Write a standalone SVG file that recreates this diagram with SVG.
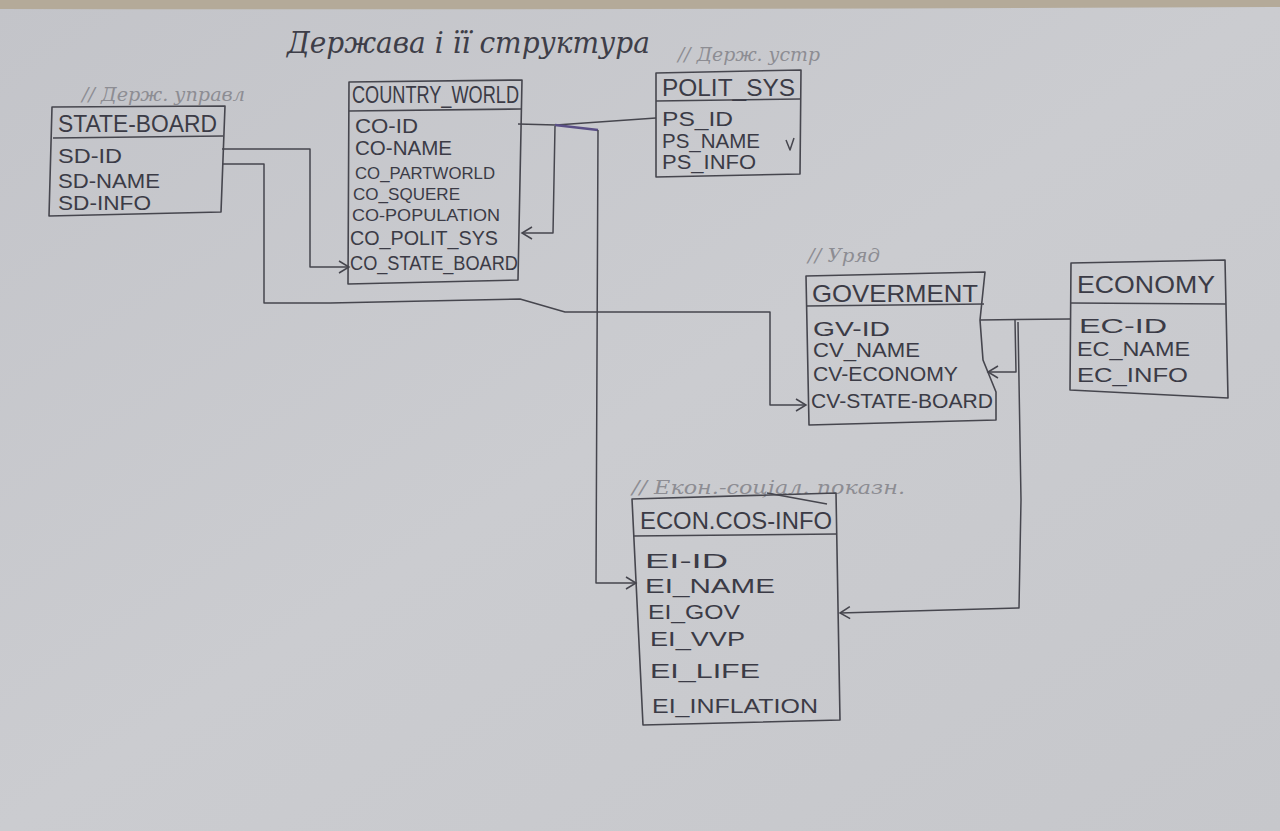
<svg xmlns="http://www.w3.org/2000/svg" width="1280" height="831" viewBox="0 0 1280 831">
<defs>
<linearGradient id="paper" x1="0" y1="0" x2="1" y2="1">
<stop offset="0" stop-color="#c3c4c9"/>
<stop offset="0.5" stop-color="#cbccd0"/>
<stop offset="1" stop-color="#c6c7cb"/>
</linearGradient>
<marker id="arr" markerWidth="14" markerHeight="14" refX="12" refY="7" orient="auto" markerUnits="userSpaceOnUse">
<path d="M2,1 L12,7 L2,13" fill="none" stroke="#45454d" stroke-width="1.5"/>
</marker>
<style>
.box{fill:none;stroke:#46464e;stroke-width:1.6;stroke-linejoin:round}
.ln{fill:none;stroke:#46464e;stroke-width:1.5;stroke-linejoin:round}
.h{font-family:"Liberation Sans","DejaVu Sans",sans-serif;font-size:24px;fill:#3b3b46}
.r{font-family:"Liberation Sans","DejaVu Sans",sans-serif;font-size:20px;fill:#3b3b46}
.rs{font-family:"Liberation Sans","DejaVu Sans",sans-serif;font-size:17px;fill:#3b3b46}
.note{font-family:"DejaVu Serif","Liberation Serif",serif;font-style:italic;font-size:19px;fill:#8d8d93}
.title{font-family:"DejaVu Serif","Liberation Serif",serif;font-style:italic;font-size:30px;fill:#3e3e48}
</style>
</defs>
<rect x="0" y="0" width="1280" height="831" fill="url(#paper)"/>
<path d="M0,0 H1280 V7 Q640,10 0,9 Z" fill="#b4aa99"/>

<text class="title" x="287" y="53" textLength="363" lengthAdjust="spacingAndGlyphs">Держава і її структура</text>

<g id="connectors">
<path class="ln" d="M518,124 L556,125 L656,118"/>
<path d="M555,125 L598,130" fill="none" stroke="#5a4f86" stroke-width="2.6"/>
<path class="ln" d="M555,126 L553,233 L522,233" marker-end="url(#arr)"/>
<path class="ln" d="M598,130 L596,583 L636,583" marker-end="url(#arr)"/>
<path class="ln" d="M222,149 L310,149 L310,267 L349,267" marker-end="url(#arr)"/>
<path class="ln" d="M222,164 L264,164 L264,303 L330,303 L520,299 L565,312 L770,312 L770,405 L806,405" marker-end="url(#arr)"/>
<path class="ln" d="M980,320 L1070,319"/>
<path class="ln" d="M1015,320 L1016,372 L988,372" marker-end="url(#arr)"/>
<path class="ln" d="M1018,322 L1021,500 L1019,608 L840,613" marker-end="url(#arr)"/>
</g>

<g id="state_board">
<text class="note" x="82" y="101" textLength="163" lengthAdjust="spacingAndGlyphs">// Держ. управл</text>
<path class="box" d="M52,107 L225,106 L221,212 L49,216 Z"/>
<path class="box" d="M53,138 L223,136"/>
<text class="h" x="58" y="132" textLength="159" lengthAdjust="spacingAndGlyphs">STATE-BOARD</text>
<text class="r" x="58" y="163" textLength="64" lengthAdjust="spacingAndGlyphs">SD-ID</text>
<text class="r" x="58" y="188" textLength="102" lengthAdjust="spacingAndGlyphs">SD-NAME</text>
<text class="r" x="58" y="210" textLength="93" lengthAdjust="spacingAndGlyphs">SD-INFO</text>
</g>

<g id="country_world">
<path class="box" d="M349,82 L522,80 L518,280 L348,284 Z"/>
<path class="box" d="M349,111 L521,109"/>
<text class="h" x="352" y="103" textLength="167" lengthAdjust="spacingAndGlyphs">COUNTRY_WORLD</text>
<text class="r" x="355" y="133" textLength="63" lengthAdjust="spacingAndGlyphs">CO-ID</text>
<text class="r" x="355" y="155" textLength="97" lengthAdjust="spacingAndGlyphs">CO-NAME</text>
<text class="rs" x="355" y="179" textLength="140" lengthAdjust="spacingAndGlyphs">CO_PARTWORLD</text>
<text class="rs" x="353" y="200" textLength="107" lengthAdjust="spacingAndGlyphs">CO_SQUERE</text>
<text class="rs" x="352" y="221" textLength="148" lengthAdjust="spacingAndGlyphs">CO-POPULATION</text>
<text class="r" x="350" y="245" textLength="148" lengthAdjust="spacingAndGlyphs">CO_POLIT_SYS</text>
<text class="r" x="350" y="270" textLength="168" lengthAdjust="spacingAndGlyphs">CO_STATE_BOARD</text>
</g>

<g id="polit_sys">
<text class="note" x="678" y="61" textLength="142" lengthAdjust="spacingAndGlyphs">// Держ. устр</text>
<path class="box" d="M656,73 L801,70 L800,174 L656,177 Z"/>
<path class="box" d="M656,101 L800,99"/>
<text class="h" x="662" y="96" textLength="133" lengthAdjust="spacingAndGlyphs">POLIT_SYS</text>
<text class="r" x="662" y="126" textLength="71" lengthAdjust="spacingAndGlyphs">PS_ID</text>
<text class="r" x="662" y="148" textLength="98" lengthAdjust="spacingAndGlyphs">PS_NAME</text>
<text class="r" x="662" y="169" textLength="94" lengthAdjust="spacingAndGlyphs">PS_INFO</text>
<path class="ln" d="M786,140 L790,150 L794,138" stroke-width="1.2"/>
</g>

<g id="goverment">
<text class="note" x="808" y="262" textLength="72" lengthAdjust="spacingAndGlyphs">// Уряд</text>
<path class="box" d="M806,276 L985,272 L980,320 L983,360 L996,392 L996,420 L809,425 Z"/>
<path class="box" d="M806,306 L984,304"/>
<text class="h" x="812" y="302" textLength="166" lengthAdjust="spacingAndGlyphs">GOVERMENT</text>
<text class="r" x="813" y="336" textLength="77" lengthAdjust="spacingAndGlyphs">GV-ID</text>
<text class="r" x="813" y="357" textLength="107" lengthAdjust="spacingAndGlyphs">CV_NAME</text>
<text class="r" x="813" y="381" textLength="145" lengthAdjust="spacingAndGlyphs">CV-ECONOMY</text>
<text class="r" x="811" y="408" textLength="182" lengthAdjust="spacingAndGlyphs">CV-STATE-BOARD</text>
</g>

<g id="economy">
<path class="box" d="M1071,263 L1225,260 L1228,398 L1070,390 Z"/>
<path class="box" d="M1071,303 L1226,304"/>
<text class="h" x="1077" y="293" textLength="138" lengthAdjust="spacingAndGlyphs">ECONOMY</text>
<text class="r" x="1079" y="333" textLength="88" lengthAdjust="spacingAndGlyphs">EC-ID</text>
<text class="r" x="1077" y="356" textLength="113" lengthAdjust="spacingAndGlyphs">EC_NAME</text>
<text class="r" x="1077" y="382" textLength="111" lengthAdjust="spacingAndGlyphs">EC_INFO</text>
</g>

<g id="econcos_info">
<text class="note" x="632" y="494" textLength="273" lengthAdjust="spacingAndGlyphs">// Екон.-соціал. показн.</text>
<path class="box" d="M632,499 L836,493 L840,720 L643,725 Z"/>
<path class="box" d="M633,536 L837,534"/>
<path class="ln" d="M767,493 L827,504" stroke-width="1.3"/>
<text class="h" x="640" y="529" textLength="192" lengthAdjust="spacingAndGlyphs">ECON.COS-INFO</text>
<text class="r" x="645" y="568" textLength="83" lengthAdjust="spacingAndGlyphs">EI-ID</text>
<text class="r" x="645" y="593" textLength="130" lengthAdjust="spacingAndGlyphs">EI_NAME</text>
<text class="r" x="648" y="619" textLength="92" lengthAdjust="spacingAndGlyphs">EI_GOV</text>
<text class="r" x="650" y="646" textLength="95" lengthAdjust="spacingAndGlyphs">EI_VVP</text>
<text class="r" x="650" y="678" textLength="110" lengthAdjust="spacingAndGlyphs">EI_LIFE</text>
<text class="r" x="652" y="713" textLength="166" lengthAdjust="spacingAndGlyphs">EI_INFLATION</text>
</g>
</svg>
